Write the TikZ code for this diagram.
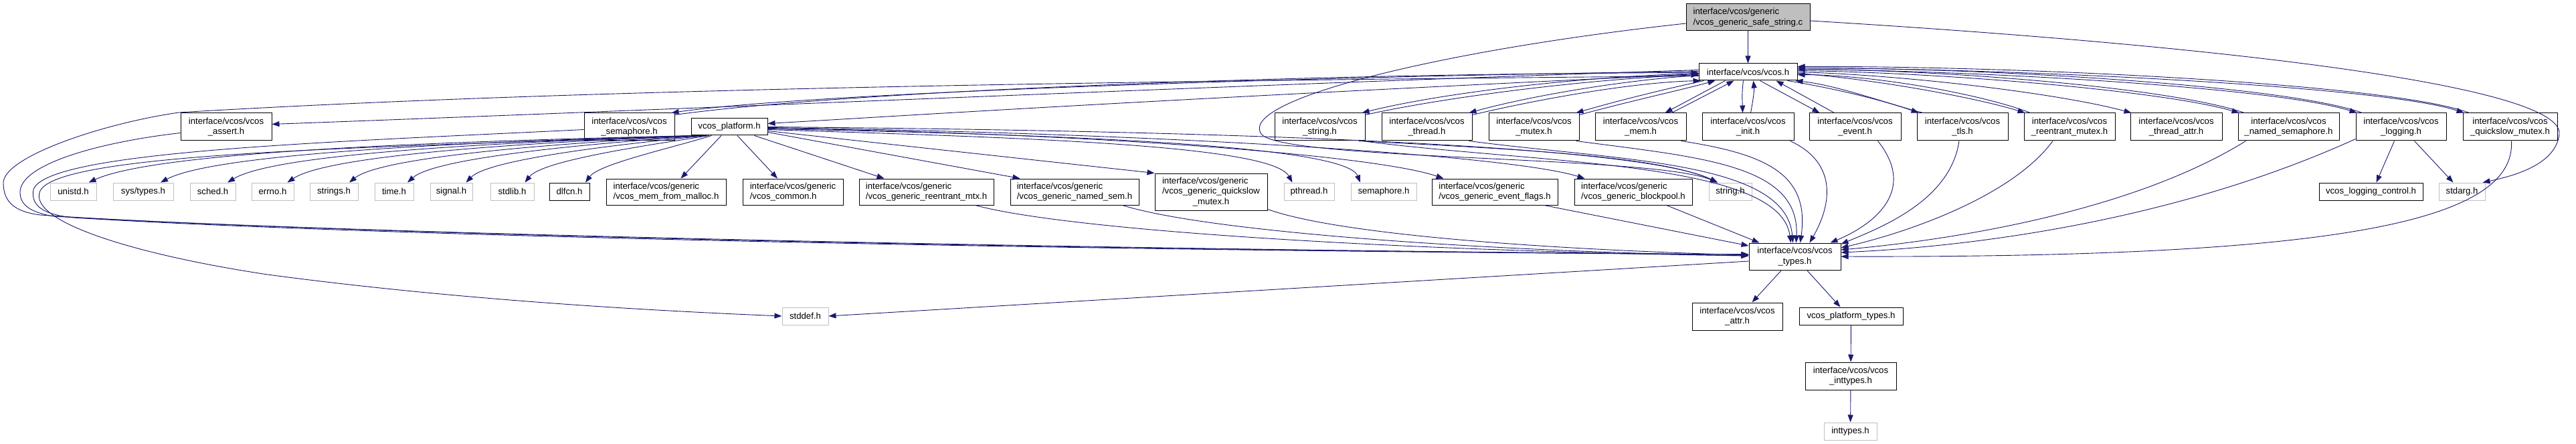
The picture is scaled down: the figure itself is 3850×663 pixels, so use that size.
\documentclass[tikz,border=0pt]{standalone}
\usepackage{fontspec}
\setmainfont{Liberation Sans}
\usetikzlibrary{arrows.meta,calc}
\definecolor{mblue}{HTML}{191970}
\definecolor{lgray}{HTML}{BFBFBF}
\begin{document}
\begin{tikzpicture}[x=1pt,y=-1pt,
  nd/.style={draw=black, fill=white, line width=1pt, inner sep=0pt, align=center,
    font=\fontsize{13.2}{15.5}\selectfont},
  sys/.style={nd, draw=lgray},
  cur/.style={nd, fill=lgray},
  e/.style={draw=mblue, line width=0.9pt, -{Triangle[length=11pt,width=8pt]}}]
\useasboundingbox (0,0) rectangle (3850,663);
% ---- nodes
\node[cur, align=left, minimum width=185pt, minimum height=40pt] (safe) at (2612.5,26) {interface/vcos/generic\\/vcos\_generic\_safe\_string.c};
\node[nd, minimum width=147pt, minimum height=25pt] (vcos) at (2612.5,107.5) {interface/vcos/vcos.h};
% row 2
\node[nd, minimum width=136pt, minimum height=41pt] (assert) at (338,189.5) {interface/vcos/vcos\\\_assert.h};
\node[nd, minimum width=135pt, minimum height=41pt] (semaphore) at (940.5,189.5) {interface/vcos/vcos\\\_semaphore.h};
\node[nd, minimum width=114pt, minimum height=25pt] (platform) at (1090,189.5) {vcos\_platform.h};
\node[nd, minimum width=135pt, minimum height=41pt] (stringv) at (1972.5,189.5) {interface/vcos/vcos\\\_string.h};
\node[nd, minimum width=135pt, minimum height=41pt] (thread) at (2132.5,189.5) {interface/vcos/vcos\\\_thread.h};
\node[nd, minimum width=135pt, minimum height=41pt] (mutex) at (2292.5,189.5) {interface/vcos/vcos\\\_mutex.h};
\node[nd, minimum width=136pt, minimum height=41pt] (mem) at (2452,189.5) {interface/vcos/vcos\\\_mem.h};
\node[nd, minimum width=137pt, minimum height=41pt] (init) at (2612.5,189.5) {interface/vcos/vcos\\\_init.h};
\node[nd, minimum width=137pt, minimum height=41pt] (event) at (2772.5,189.5) {interface/vcos/vcos\\\_event.h};
\node[nd, minimum width=136pt, minimum height=41pt] (tls) at (2933,189.5) {interface/vcos/vcos\\\_tls.h};
\node[nd, minimum width=136pt, minimum height=41pt] (rmutex) at (3093,189.5) {interface/vcos/vcos\\\_reentrant\_mutex.h};
\node[nd, minimum width=137pt, minimum height=41pt] (tattr) at (3252.5,189.5) {interface/vcos/vcos\\\_thread\_attr.h};
\node[nd, minimum width=151pt, minimum height=41pt] (nsem) at (3420.5,189.5) {interface/vcos/vcos\\\_named\_semaphore.h};
\node[nd, minimum width=135pt, minimum height=41pt] (logging) at (3588.5,189.5) {interface/vcos/vcos\\\_logging.h};
\node[nd, minimum width=141pt, minimum height=41pt] (qsmutex) at (3751.5,189.5) {interface/vcos/vcos\\\_quickslow\_mutex.h};
% row 3
\node[sys, minimum width=69pt, minimum height=26pt] (unistd) at (109.5,286) {unistd.h};
\node[sys, minimum width=90pt, minimum height=26pt] (systypes) at (214,286) {sys/types.h};
\node[sys, minimum width=68pt, minimum height=26pt] (sched) at (318,286) {sched.h};
\node[sys, minimum width=63pt, minimum height=26pt] (errno) at (407.5,286) {errno.h};
\node[sys, minimum width=72pt, minimum height=26pt] (strings) at (499,286) {strings.h};
\node[sys, minimum width=58pt, minimum height=26pt] (time) at (589,286) {time.h};
\node[sys, minimum width=63pt, minimum height=26pt] (signal) at (674.5,286) {signal.h};
\node[sys, minimum width=65pt, minimum height=26pt] (stdlib) at (765.5,286) {stdlib.h};
\node[nd, minimum width=60pt, minimum height=26pt] (dlfcn) at (851,286) {dlfcn.h};
\node[nd, align=left, minimum width=179pt, minimum height=39pt] (mfm) at (995.5,286.5) {interface/vcos/generic\\/vcos\_mem\_from\_malloc.h};
\node[nd, align=left, minimum width=150pt, minimum height=39pt] (common) at (1185,286.5) {interface/vcos/generic\\/vcos\_common.h};
\node[nd, align=left, minimum width=201pt, minimum height=39pt] (grmtx) at (1384.5,286.5) {interface/vcos/generic\\/vcos\_generic\_reentrant\_mtx.h};
\node[nd, align=left, minimum width=192pt, minimum height=39pt] (gnsem) at (1606,286.5) {interface/vcos/generic\\/vcos\_generic\_named\_sem.h};
\node[nd, minimum width=168pt, minimum height=55pt] (gqs) at (1810,286.5) {\begin{tabular}{@{}l@{}}interface/vcos/generic\\/vcos\_generic\_quickslow\\\multicolumn{1}{@{}c@{}}{\_mutex.h}\end{tabular}};
\node[sys, minimum width=75pt, minimum height=26pt] (pthread) at (1956.5,286) {pthread.h};
\node[sys, minimum width=98pt, minimum height=26pt] (semsys) at (2068,286) {semaphore.h};
\node[nd, align=left, minimum width=188pt, minimum height=39pt] (gef) at (2234,286.5) {interface/vcos/generic\\/vcos\_generic\_event\_flags.h};
\node[nd, align=left, minimum width=176pt, minimum height=39pt] (gbp) at (2441,286.5) {interface/vcos/generic\\/vcos\_generic\_blockpool.h};
\node[sys, minimum width=64pt, minimum height=26pt] (stringsys) at (2586,286) {string.h};
\node[nd, minimum width=155pt, minimum height=26pt] (logctl) at (3543.5,286) {vcos\_logging\_control.h};
\node[sys, minimum width=69pt, minimum height=26pt] (stdarg) at (3679.5,286) {stdarg.h};
% lower rows
\node[nd, minimum width=137pt, minimum height=40pt] (types) at (2682.5,383) {interface/vcos/vcos\\\_types.h};
\node[sys, minimum width=69pt, minimum height=26pt] (stddef) at (1203.5,472) {stddef.h};
\node[nd, minimum width=135pt, minimum height=41pt] (attr) at (2596.5,472.5) {interface/vcos/vcos\\\_attr.h};
\node[nd, minimum width=155pt, minimum height=26pt] (ptypes) at (2766.5,472) {vcos\_platform\_types.h};
\node[nd, minimum width=136pt, minimum height=41pt] (inttypesv) at (2766,561.5) {interface/vcos/vcos\\\_inttypes.h};
\node[sys, minimum width=79pt, minimum height=26pt] (inttypes) at (2765.5,644) {inttypes.h};
% ---- edges from safe_string.c
\draw[e] (safe) -- (vcos);
\draw[e] ($(safe.west)+(0,9)$) .. controls (2150,75) and (1850,150) .. (1885,200) .. controls (1915,240) and (2470,232) .. ($(stringsys.north)+(-19,0)$);
\draw[e] ($(safe.east)+(0,5)$) .. controls (3350,70) and (3830,130) .. (3825,200) .. controls (3820,245) and (3760,262) .. ($(stdarg.north east)+(-4,0)$);
% ---- vcos.h <-> left row-2 nodes
\draw[e] ($(vcos.west)+(0,-3)$) .. controls (1900,125) and (1100,160) .. ($(assert.east)+(0,-4)$);
\draw[e] ($(vcos.west)+(0,-1)$) .. controls (1900,115) and (1200,140) .. ($(semaphore.north east)+(-5,0)$);
\draw[e] ($(semaphore.north east)+(0,3)$) .. controls (1250,138) and (1900,110) .. ($(vcos.west)+(0,1)$);
\draw[e] ($(vcos.west)+(0,3)$) .. controls (1700,150) and (1400,170) .. ($(platform.east)+(0,-5)$);
\draw[e] ($(vcos.west)+(0,2)$) .. controls (2350,115) and (2150,140) .. ($(stringv.north east)+(-5,0)$);
\draw[e] ($(stringv.north east)+(0,3)$) .. controls (2170,143) and (2380,118) .. ($(vcos.west)+(0,4)$);
\draw[e] ($(vcos.west)+(0,5)$) .. controls (2420,120) and (2280,145) .. ($(thread.north east)+(-5,0)$);
\draw[e] ($(thread.north east)+(0,3)$) .. controls (2300,148) and (2440,123) .. ($(vcos.south west)+(3,0)$);
\draw[e] ($(vcos.south west)+(8,0)$) .. controls (2480,135) and (2420,150) .. ($(mutex.north east)+(-5,0)$);
\draw[e] ($(mutex.north east)+(0,3)$) .. controls (2440,150) and (2510,135) .. ($(vcos.south west)+(25,0)$);
\draw[e] ($(vcos.south west)+(40,0)$) -- ($(mem.north east)+(-32,0)$);
\draw[e] ($(mem.north east)+(-22,0)$) -- ($(vcos.south west)+(53,0)$);
\draw[e] ($(vcos.south)+(-7,0)$) .. controls (2603,140) and (2604,150) .. ($(init.north)+(-8,0)$);
\draw[e] ($(init.north)+(4,0)$) .. controls (2620,150) and (2622,135) .. ($(vcos.south)+(8,0)$);
\draw[e] ($(vcos.south)+(18,0)$) -- ($(event.north west)+(16,0)$);
\draw[e] ($(event.north west)+(38,0)$) -- ($(vcos.south)+(42,0)$);
% ---- vcos.h <-> right row-2 nodes
\draw[e] ($(vcos.south east)+(-15,0)$) .. controls (2760,135) and (2830,155) .. ($(tls.north west)+(3,0)$);
\draw[e] ($(tls.north west)+(10,0)$) .. controls (2830,158) and (2750,128) .. ($(vcos.south east)+(-3,0)$);
\draw[e] ($(vcos.east)+(0,2)$) .. controls (2800,118) and (2950,145) .. ($(rmutex.north west)+(2,0)$);
\draw[e] ($(rmutex.north west)+(10,0)$) .. controls (2960,140) and (2800,112) .. ($(vcos.east)+(0,4)$);
\draw[e] (vcos.east) .. controls (2850,112) and (3080,140) .. ($(tattr.north west)+(2,0)$);
\draw[e] ($(vcos.east)+(0,-2)$) .. controls (2900,108) and (3230,135) .. ($(nsem.north west)+(2,0)$);
\draw[e] ($(nsem.north west)+(10,0)$) .. controls (3240,130) and (2900,104) .. ($(vcos.east)+(0,-4)$);
\draw[e] ($(vcos.east)+(0,-4)$) .. controls (2950,105) and (3400,130) .. ($(logging.north west)+(2,0)$);
\draw[e] ($(logging.north west)+(10,0)$) .. controls (3410,126) and (2950,101) .. ($(vcos.east)+(0,-6)$);
\draw[e] ($(vcos.east)+(0,-6)$) .. controls (3000,102) and (3560,128) .. ($(qsmutex.north west)+(2,0)$);
\draw[e] ($(qsmutex.north west)+(10,0)$) .. controls (3570,124) and (3000,98) .. ($(vcos.east)+(0,-8)$);
% ---- long loops round the left
\draw[e] ($(vcos.west)+(0,6)$) .. controls (1800,120) and (900,130) .. (267,168) .. controls (150,185) and (5,235) .. (5,273) .. controls (5,300) and (20,316) .. (60,321) .. controls (400,345) and (1500,372) .. ($(types.west)+(0,-3)$);
\draw[e] ($(assert.west)+(0,9)$) .. controls (150,212) and (30,245) .. (30,287) .. controls (30,306) and (45,317) .. (80,323) .. controls (500,348) and (1500,373) .. ($(types.west)+(0,-3)$);
\draw[e] ($(semaphore.west)+(0,4)$) .. controls (500,212) and (70,225) .. (50,283) .. controls (45,310) and (70,321) .. (110,325) .. controls (500,350) and (1500,374) .. ($(types.west)+(0,-3)$);
\draw[e] ($(platform.south west)+(4,0)$) .. controls (600,220) and (90,225) .. (60,285) .. controls (40,330) and (200,380) .. (400,410) .. controls (700,450) and (1000,465) .. (stddef.west);
% ---- vcos_platform.h to system headers
\draw[e] ($(platform.south west)+(6,0)$) .. controls (620,212) and (230,228) .. ($(unistd.north)+(23,0)$);
\draw[e] ($(platform.south west)+(9,0)$) .. controls (680,212) and (320,230) .. ($(systypes.north)+(26,0)$);
\draw[e] ($(platform.south west)+(12,0)$) .. controls (730,213) and (410,230) .. ($(sched.north)+(22,0)$);
\draw[e] ($(platform.south west)+(15,0)$) .. controls (780,213) and (490,232) .. ($(errno.north)+(22,0)$);
\draw[e] ($(platform.south west)+(18,0)$) .. controls (830,214) and (570,234) .. ($(strings.north)+(23,0)$);
\draw[e] ($(platform.south west)+(21,0)$) .. controls (870,215) and (650,236) .. ($(time.north)+(20,0)$);
\draw[e] ($(platform.south west)+(24,0)$) .. controls (920,216) and (730,238) .. ($(signal.north)+(22,0)$);
\draw[e] ($(platform.south west)+(27,0)$) .. controls (960,218) and (810,240) .. ($(stdlib.north)+(19,0)$);
\draw[e] ($(platform.south west)+(31,0)$) .. controls (1000,222) and (895,245) .. ($(dlfcn.north)+(24,0)$);
\draw[e] ($(platform.south)+(-12,0)$) -- ($(mfm.north)+(22,0)$);
\draw[e] ($(platform.south)+(12,0)$) -- ($(common.north)+(-23,0)$);
\draw[e] ($(platform.south east)+(-20,0)$) -- ($(grmtx.north west)+(38,0)$);
\draw[e] ($(platform.east)+(0,8)$) -- ($(gnsem.north west)+(15,0)$);
\draw[e] ($(platform.east)+(0,6)$) -- (gqs.north west);
\draw[e] ($(platform.east)+(0,4)$) .. controls (1500,205) and (1900,215) .. ($(pthread.north)+(-25,0)$);
\draw[e] ($(platform.east)+(0,3)$) .. controls (1550,200) and (2010,215) .. ($(semsys.north)+(-35,0)$);
\draw[e] ($(platform.east)+(0,2)$) .. controls (1600,198) and (2050,230) .. ($(gef.north west)+(18,0)$);
\draw[e] ($(platform.east)+(0,1)$) .. controls (1700,198) and (2250,230) .. ($(gbp.north west)+(16,0)$);
\draw[e] (platform.east) .. controls (1800,195) and (2450,215) .. ($(stringsys.north)+(-19,0)$);
\draw[e] ($(stringv.south east)+(-10,0)$) .. controls (2250,222) and (2480,232) .. ($(stringsys.north)+(-19,0)$);
% ---- into vcos_types.h
\draw[e] ($(stringv.south east)+(-5,0)$) .. controls (2300,245) and (2660,240) .. ($(types.north)+(-6,0)$);
\draw[e] ($(thread.south east)+(-5,0)$) .. controls (2420,240) and (2670,240) .. ($(types.north)+(-3,0)$);
\draw[e] ($(mutex.south east)+(-5,0)$) .. controls (2540,235) and (2690,245) .. ($(types.north)+(2,0)$);
\draw[e] ($(mem.south east)+(-8,0)$) .. controls (2640,230) and (2705,260) .. ($(types.north)+(8,0)$);
\draw[e] ($(init.south east)+(-6,0)$) .. controls (2750,245) and (2735,310) .. ($(types.north)+(22,0)$);
\draw[e] ($(event.south)+(34,0)$) .. controls (2870,290) and (2790,340) .. ($(types.north east)+(-16,0)$);
\draw[e] ($(tls.south)+(-5,0)$) .. controls (2915,300) and (2810,340) .. ($(types.north east)+(0,2)$);
\draw[e] ($(rmutex.south)+(-25,0)$) .. controls (3010,290) and (2860,345) .. ($(types.east)+(0,-13)$);
\draw[e] ($(nsem.south west)+(12,0)$) .. controls (3180,320) and (2900,360) .. ($(types.east)+(0,-10)$);
\draw[e] ($(logging.south west)+(0,-3)$) .. controls (3250,330) and (2950,368) .. ($(types.east)+(0,-6)$);
\draw[e] ($(qsmutex.south)+(2,0)$) .. controls (3760,330) and (3500,385) .. (types.east);
\draw[e] ($(grmtx.south east)+(-28,0)$) .. controls (1600,345) and (2100,375) .. ($(types.west)+(0,-1)$);
\draw[e] ($(gnsem.south east)+(-25,0)$) .. controls (1800,345) and (2200,375) .. ($(types.west)+(0,-1)$);
\draw[e] ($(gqs.south east)+(0,-2)$) .. controls (2000,350) and (2300,372) .. ($(types.west)+(0,-2)$);
\draw[e] ($(gef.south east)+(-21,0)$) -- ($(types.west)+(0,-16)$);
\draw[e] ($(gbp.south east)+(-39,0)$) -- ($(types.north west)+(16,0)$);
% ---- logging
\draw[e] ($(logging.south)+(-10,0)$) -- ($(logctl.north)+(8,0)$);
\draw[e] ($(logging.south)+(20,0)$) -- ($(stdarg.north)+(-13,0)$);
% ---- below vcos_types.h
\draw[e] ($(types.west)+(0,7)$) -- (stddef.east);
\draw[e] ($(types.south)+(-20,0)$) -- ($(attr.north)+(22,0)$);
\draw[e] ($(types.south)+(18,0)$) -- ($(ptypes.north)+(-16,0)$);
\draw[e] (ptypes) -- (inttypesv);
\draw[e] (inttypesv) -- (inttypes);
\end{tikzpicture}
\end{document}
